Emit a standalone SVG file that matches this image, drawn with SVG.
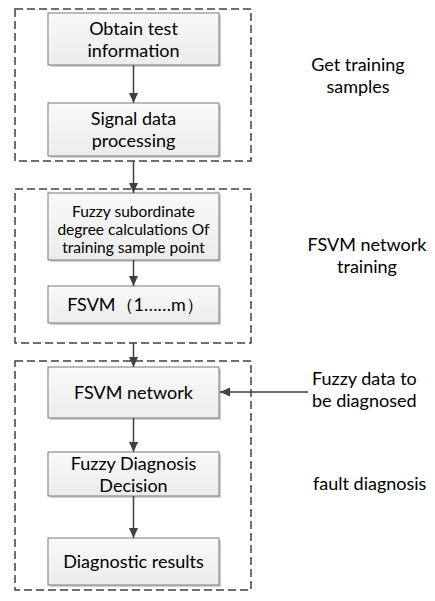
<svg xmlns="http://www.w3.org/2000/svg" width="435" height="601" viewBox="0 0 435 601">
<defs>
<linearGradient id="g" x1="0" y1="0" x2="0" y2="1">
<stop offset="0" stop-color="#f9f9f9"/>
<stop offset="1" stop-color="#ececec"/>
</linearGradient>
<marker id="ah" markerWidth="11" markerHeight="11" refX="10" refY="5.5" orient="auto" markerUnits="userSpaceOnUse">
<path d="M0,1 L10,5.5 L0,10 Z" fill="#404040"/>
</marker>
</defs>
<style>
.grp{fill:none;stroke:#404040;stroke-width:1.5;stroke-dasharray:8,4}
.box{fill:url(#g);stroke:#7a7a7a;stroke-width:1}
.sh{fill:#d0d0d0}
.t{font-family:Lato,"Liberation Sans",sans-serif;font-size:18px;fill:#000;text-anchor:middle}
.s{font-size:15.5px}
.l{text-anchor:start}
.c{fill:none;stroke:#404040;stroke-width:1.5;marker-end:url(#ah)}
</style>
<rect width="435" height="601" fill="#fff"/>
<g id="groups">
<rect class="grp" x="15" y="9" width="236" height="152"/>
<rect class="grp" x="15" y="189" width="236" height="154"/>
<rect class="grp" x="15" y="361" width="236" height="229"/>
</g>
<g id="n1"><rect class="sh" x="50" y="15" width="171" height="52"/><rect class="box" x="48" y="13" width="171" height="52"/>
<text class="t" x="133.5" y="35">Obtain test</text><text class="t" x="133.5" y="57">information</text></g>
<g id="n2"><rect class="sh" x="50" y="105" width="171" height="53"/><rect class="box" x="48" y="103" width="171" height="53"/>
<text class="t" x="133.5" y="125">Signal data</text><text class="t" x="133.5" y="147">processing</text></g>
<g id="n3"><rect class="sh" x="50" y="195" width="171" height="67"/><rect class="box" x="48" y="193" width="171" height="67"/>
<text class="t s" x="133.5" y="217">Fuzzy subordinate</text><text class="t s" x="133.5" y="235">degree calculations Of</text><text class="t s" x="133.5" y="253">training sample point</text></g>
<g id="n4"><rect class="sh" x="50" y="288" width="171" height="37"/><rect class="box" x="48" y="286" width="171" height="37"/>
<text class="t" x="135.5" y="311">FSVM（1……m）</text></g>
<g id="n5"><rect class="sh" x="50" y="369" width="171" height="51"/><rect class="box" x="48" y="367" width="171" height="51"/>
<text class="t" x="133.5" y="399">FSVM network</text></g>
<g id="n6"><rect class="sh" x="50" y="454" width="171" height="44"/><rect class="box" x="48" y="452" width="171" height="44"/>
<text class="t" x="133.5" y="470">Fuzzy Diagnosis</text><text class="t" x="133.5" y="492">Decision</text></g>
<g id="n7"><rect class="sh" x="50" y="540" width="171" height="47"/><rect class="box" x="48" y="538" width="171" height="47"/>
<text class="t" x="133.5" y="568">Diagnostic results</text></g>
<g id="labels">
<text class="t" x="358" y="71">Get training</text><text class="t" x="358" y="93">samples</text>
<text class="t" x="367" y="251">FSVM network</text><text class="t" x="367" y="273">training</text>
<text class="t l" x="312" y="385">Fuzzy data to</text><text class="t l" x="312" y="407">be diagnosed</text>
<text class="t l" x="313" y="490">fault diagnosis</text>
</g>
<g id="connectors">
<line class="c" x1="133.5" y1="65" x2="133.5" y2="103"/>
<line class="c" x1="133.5" y1="161" x2="133.5" y2="193"/>
<line class="c" x1="133.5" y1="260" x2="133.5" y2="286"/>
<line class="c" x1="133.5" y1="343" x2="133.5" y2="367"/>
<line class="c" x1="133.5" y1="418" x2="133.5" y2="452"/>
<line class="c" x1="133.5" y1="496" x2="133.5" y2="538"/>
<line class="c" x1="308" y1="392" x2="220" y2="392"/>
</g>
</svg>
